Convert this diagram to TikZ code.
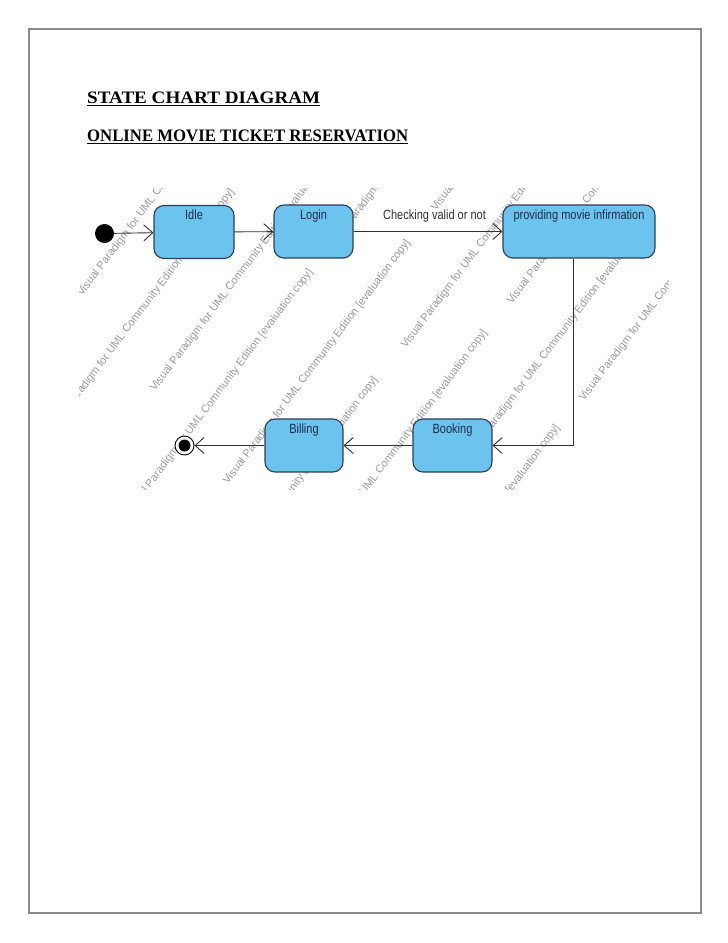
\documentclass[tikz,border=0pt]{standalone}
\usepackage{fontspec}
\setmainfont{Liberation Serif}
\newfontfamily\arialf{Liberation Sans}
\usetikzlibrary{arrows.meta}
\definecolor{boxfill}{HTML}{6CC4EE}
\definecolor{boxline}{HTML}{2B3E5C}
\definecolor{boxtext}{HTML}{1C2B4A}
\definecolor{edgecol}{HTML}{333333}
\definecolor{wmcol}{HTML}{9C9C9C}
\definecolor{pageframe}{HTML}{8A8A8A}
\newcommand{\tallsans}[1]{\scalebox{1}[1.22]{#1}}
\begin{document}
\begin{tikzpicture}[x=1pt,y=-1pt,
  statebox/.style={draw=boxline, fill=boxfill, line width=1.1pt, rounded corners=10pt,
    minimum width=#1, minimum height=53pt, inner sep=0pt},
  statelabel/.style={font=\arialf\fontsize{11}{13}\selectfont, text=boxtext, anchor=north,
    inner sep=0pt, yshift=-5pt},
  trans/.style={draw=edgecol, line width=0.9pt,
    -{Straight Barb[length=9pt,width=16pt,line width=0.9pt]}},
  wmark/.style={font=\arialf\fontsize{11}{13}\selectfont, text=wmcol, rotate=53,
    anchor=base west, inner sep=0pt},
  titletext/.style={anchor=base west, inner sep=0pt}]
\useasboundingbox (0,0) rectangle (728,943);
% page frame
\draw[pageframe, line width=1.6pt] (29,29) rectangle (701,913);
% titles
\node[titletext] (t1) at (87,103)
  {\resizebox{233pt}{\height}{\fontsize{17.5}{20}\selectfont\bfseries STATE CHART DIAGRAM}};
\node[titletext] (t2) at (87,141)
  {\resizebox{321pt}{\height}{\fontsize{17.5}{20}\selectfont\bfseries ONLINE MOVIE TICKET RESERVATION}};
\draw[line width=1.2pt] ([yshift=-2.5pt]t1.base west) -- ([yshift=-2.5pt]t1.base east);
\draw[line width=1.2pt] ([yshift=-2.5pt]t2.base west) -- ([yshift=-2.5pt]t2.base east);
% watermarks
\begin{scope}
\clip (79,188) rectangle (668,489);
\foreach \p/\q in {82/297, 52/434, 155/392, 130.6/514.5, 228/485, 331/252, 436/212,
                   406/349, 512/305, 469/461, 584/402, 195.6/622, 305/575, 377.5/670}
  \node[wmark] at (\p,\q) {Visual Paradigm for UML Community Edition [evaluation copy]};
\end{scope}
% states
\node[circle, fill=black, minimum size=19pt, inner sep=0pt] (init) at (104.5,233.5) {};
\node[statebox=80pt] (idle) at (194,232) {};
\node[statelabel] (idlel) at (idle.north) {\tallsans{Idle}};
\node[statebox=79pt] (login) at (313.5,231.5) {};
\node[statelabel] (loginl) at (login.north) {\tallsans{Login}};
\node[statebox=152pt] (prov) at (579,231.5) {};
\node[statelabel] (provl) at (prov.north) {\tallsans{providing movie infirmation}};
\node[statebox=79pt] (book) at (452.5,445.5) {};
\node[statelabel] (bookl) at (book.north) {\tallsans{Booking}};
\node[statebox=78pt] (bill) at (304,445.5) {};
\node[statelabel] (billl) at (bill.north) {\tallsans{Billing}};
\node[circle, draw=black, fill=white, line width=0.9pt, minimum size=19pt, inner sep=0pt] (final) at (184.5,445.5) {};
\fill (final.center) circle (6pt);
% transitions
\draw[trans] (init) -- (idle);
\draw[trans] (idle) -- (login);
\draw[trans] (login) -- (prov);
\node[font=\arialf\fontsize{11}{13}\selectfont, text=edgecol, inner sep=0pt] (chk) at (434.5,216.5) {\tallsans{Checking valid or not}};
\coordinate (bend) at (573,445.5);
\draw[trans] (prov.south -| bend) -- (bend) -- (book.east);
\draw[trans] (book) -- (bill);
\draw[trans] (bill) -- (final);
\end{tikzpicture}
\end{document}
